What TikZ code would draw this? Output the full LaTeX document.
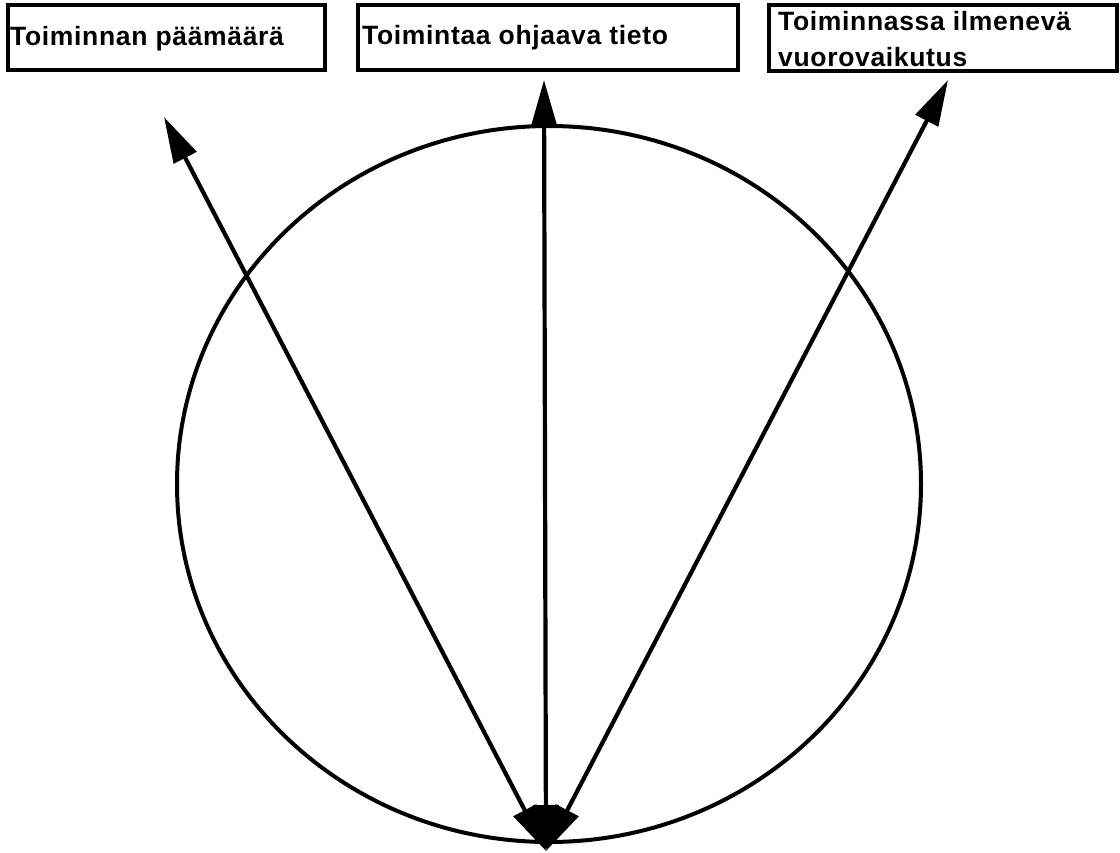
\documentclass[tikz,border=0pt]{standalone}
\usepackage{fontspec}
\setmainfont{Liberation Sans}[LetterSpace=2.5]
\usetikzlibrary{arrows.meta,shapes.geometric}
\begin{document}
\begin{tikzpicture}[x=1pt,y=-1pt,
  frame/.style={draw=black,line width=4pt,fill=white},
  lbl/.style={anchor=base west,inner sep=0pt,font=\fontsize{26.5}{37}\selectfont\bfseries},
  dbl/.style={line width=4.2pt,{Triangle[length=46pt,width=25pt]}-{Triangle[length=46pt,width=25pt]}}]
\useasboundingbox (0,0) rectangle (1120,853);
\fill[white] (0,0) rectangle (1120,853);
% boxes
\draw[frame] (8,5) rectangle (325,70);
\draw[frame] (358,5) rectangle (738,70);
\draw[frame] (769,5) rectangle (1117,71);
\node[lbl] (t1) at (10,46) {Toiminnan päämäärä};
\node[lbl] (t2) at (362,45) {Toimintaa ohjaava tieto};
\node[lbl] (t3) at (778,31) {Toiminnassa ilmenevä};
\node[lbl] (t4) at (778,67) {vuorovaikutus};
% circle
\node[draw=black,line width=4pt,ellipse,minimum width=744pt,minimum height=716pt,inner sep=0pt] (c) at (549,484) {};
% arrows
\coordinate (bot) at (546,851);
\coordinate (a1) at (164,117);
\coordinate (a2) at (544,80);
\coordinate (a3) at (948,80);
\draw[dbl] (a1) -- (bot);
\draw[dbl] (a2) -- (bot);
\draw[dbl] (a3) -- (bot);
\end{tikzpicture}
\end{document}
